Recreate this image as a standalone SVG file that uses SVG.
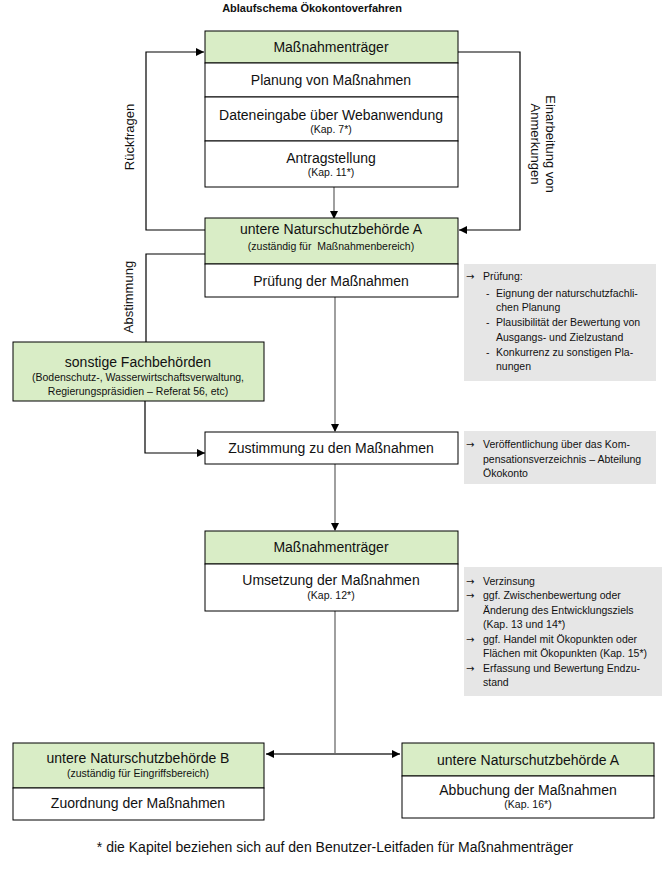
<svg xmlns="http://www.w3.org/2000/svg" width="670" height="870" viewBox="0 0 670 870">
<defs>
<marker id="ah" viewBox="0 0 10 10" refX="10" refY="5" markerWidth="8" markerHeight="8" markerUnits="userSpaceOnUse" orient="auto-start-reverse">
<path d="M0,0 L10,5 L0,10 z" fill="#000"/>
</marker>
<style>
text{font-family:"Liberation Sans",Arial,sans-serif;fill:#111}
.t{font-size:14px;text-anchor:middle}
.s{font-size:10.5px;text-anchor:middle}
.n{font-size:10.5px}
.a{font-size:10px;font-family:"DejaVu Sans",sans-serif}
.g{fill:#d9edc6;stroke:#000;stroke-width:1}
.w{fill:#fff;stroke:#000;stroke-width:1}
.note{fill:#e6e6e6}
.blk{fill:none;stroke:#000;stroke-width:1.2}
.gry{fill:none;stroke:#888;stroke-width:1.6}
.dgr{fill:none;stroke:#666;stroke-width:2}
</style>
</defs>
<rect width="670" height="870" fill="#fff"/>
<text x="312" y="12" style="font-size:11px;font-weight:bold;text-anchor:middle">Ablaufschema Ökokontoverfahren</text>

<g id="connectors">
<path class="blk" d="M205,230 H146 V52 H204" marker-end="url(#ah)"/>
<path class="blk" d="M458,52 H520 V230 H459" marker-end="url(#ah)"/>
<path class="gry" d="M334,187 V218"/>
<path d="M330,211 L338,211 L334,219 z" fill="#000"/>
<path class="blk" d="M205,254 H146 V342"/>
<path class="blk" d="M145,401 V453 H205" marker-end="url(#ah)"/>
<path class="gry" d="M335,297 V431"/>
<path d="M331,424 L339,424 L335,432 z" fill="#000"/>
<path class="gry" d="M335,464 V530"/>
<path d="M331,523 L339,523 L335,531 z" fill="#000"/>
<path class="gry" d="M335,611 V754"/>
<path class="dgr" d="M266,754 H400" marker-start="url(#ah)" marker-end="url(#ah)"/>
<text class="t" transform="translate(134,137) rotate(-90)" style="font-size:13px">Rückfragen</text>
<text class="t" transform="translate(546,144) rotate(90)" style="font-size:13px">Einarbeitung von</text>
<text class="t" transform="translate(531,144) rotate(90)" style="font-size:13px">Anmerkungen</text>
<text class="t" transform="translate(133,297) rotate(-90)" style="font-size:13px">Abstimmung</text>
</g>

<g id="node-massnahmentraeger-1">
<rect class="g" x="205" y="31" width="253" height="32"/>
<rect class="w" x="205" y="63" width="253" height="34"/>
<rect class="w" x="205" y="97" width="253" height="44"/>
<rect class="w" x="205" y="141" width="253" height="46"/>
<text class="t" x="331" y="52">Maßnahmenträger</text>
<text class="t" x="331" y="85">Planung von Maßnahmen</text>
<text class="t" x="331" y="120">Dateneingabe über Webanwendung</text>
<text class="s" x="331" y="133">(Kap. 7*)</text>
<text class="t" x="331" y="163">Antragstellung</text>
<text class="s" x="331" y="176">(Kap. 11*)</text>
</g>

<g id="node-unb-a-1">
<rect class="g" x="205" y="218" width="253" height="46"/>
<rect class="w" x="205" y="264" width="253" height="33"/>
<text class="t" x="331" y="234">untere Naturschutzbehörde A</text>
<text class="s" x="331" y="250" xml:space="preserve">(zuständig für  Maßnahmenbereich)</text>
<text class="t" x="331" y="286">Prüfung der Maßnahmen</text>
</g>

<g id="note-pruefung">
<rect class="note" x="464" y="264" width="192" height="117"/>
<text class="a" x="466" y="280">→</text>
<text class="n" x="483" y="280">Prüfung:</text>
<text class="n" x="486" y="297">-</text>
<text class="n" x="496" y="297">Eignung der naturschutzfachli-</text>
<text class="n" x="496" y="311">chen Planung</text>
<text class="n" x="486" y="326">-</text>
<text class="n" x="496" y="326">Plausibilität der Bewertung von</text>
<text class="n" x="496" y="341">Ausgangs- und Zielzustand</text>
<text class="n" x="486" y="356">-</text>
<text class="n" x="496" y="356">Konkurrenz zu sonstigen Pla-</text>
<text class="n" x="496" y="370">nungen</text>
</g>

<g id="node-sonstige">
<rect class="g" x="13" y="342" width="251" height="59"/>
<text class="t" x="138" y="367">sonstige Fachbehörden</text>
<text class="s" x="138" y="381">(Bodenschutz-, Wasserwirtschaftsverwaltung,</text>
<text class="s" x="138" y="395">Regierungspräsidien – Referat 56, etc)</text>
</g>

<g id="node-zustimmung">
<rect class="w" x="205" y="432" width="253" height="32"/>
<text class="t" x="331" y="453">Zustimmung zu den Maßnahmen</text>
</g>

<g id="note-veroeffentlichung">
<rect class="note" x="464" y="431" width="192" height="53"/>
<text class="a" x="466" y="448">→</text>
<text class="n" x="483" y="448">Veröffentlichung über das Kom-</text>
<text class="n" x="483" y="463">pensationsverzeichnis – Abteilung</text>
<text class="n" x="483" y="477">Ökokonto</text>
</g>

<g id="node-massnahmentraeger-2">
<rect class="g" x="205" y="531" width="253" height="33"/>
<rect class="w" x="205" y="564" width="253" height="47"/>
<text class="t" x="331" y="552">Maßnahmenträger</text>
<text class="t" x="331" y="585">Umsetzung der Maßnahmen</text>
<text class="s" x="331" y="599">(Kap. 12*)</text>
</g>

<g id="note-umsetzung">
<rect class="note" x="464" y="567" width="198" height="129"/>
<text class="a" x="466" y="585">→</text>
<text class="n" x="483" y="585">Verzinsung</text>
<text class="a" x="466" y="599">→</text>
<text class="n" x="483" y="599">ggf. Zwischenbewertung oder</text>
<text class="n" x="483" y="614">Änderung des Entwicklungsziels</text>
<text class="n" x="483" y="628">(Kap. 13 und 14*)</text>
<text class="a" x="466" y="643">→</text>
<text class="n" x="483" y="643">ggf. Handel mit Ökopunkten oder</text>
<text class="n" x="483" y="657">Flächen mit Ökopunkten (Kap. 15*)</text>
<text class="a" x="466" y="672">→</text>
<text class="n" x="483" y="672">Erfassung und Bewertung Endzu-</text>
<text class="n" x="483" y="686">stand</text>
</g>

<g id="node-unb-b">
<rect class="g" x="13" y="743" width="251" height="45"/>
<rect class="w" x="13" y="788" width="251" height="32"/>
<text class="t" x="138" y="763">untere Naturschutzbehörde B</text>
<text class="s" x="138" y="777">(zuständig für Eingriffsbereich)</text>
<text class="t" x="138" y="808">Zuordnung der Maßnahmen</text>
</g>

<g id="node-unb-a-2">
<rect class="g" x="402" y="743" width="252" height="33"/>
<rect class="w" x="402" y="776" width="252" height="42"/>
<text class="t" x="528" y="765">untere Naturschutzbehörde A</text>
<text class="t" x="528" y="795">Abbuchung der Maßnahmen</text>
<text class="s" x="528" y="808">(Kap. 16*)</text>
</g>

<text x="335" y="852" style="font-size:14px;text-anchor:middle">* die Kapitel beziehen sich auf den Benutzer-Leitfaden für Maßnahmenträger</text>
</svg>
